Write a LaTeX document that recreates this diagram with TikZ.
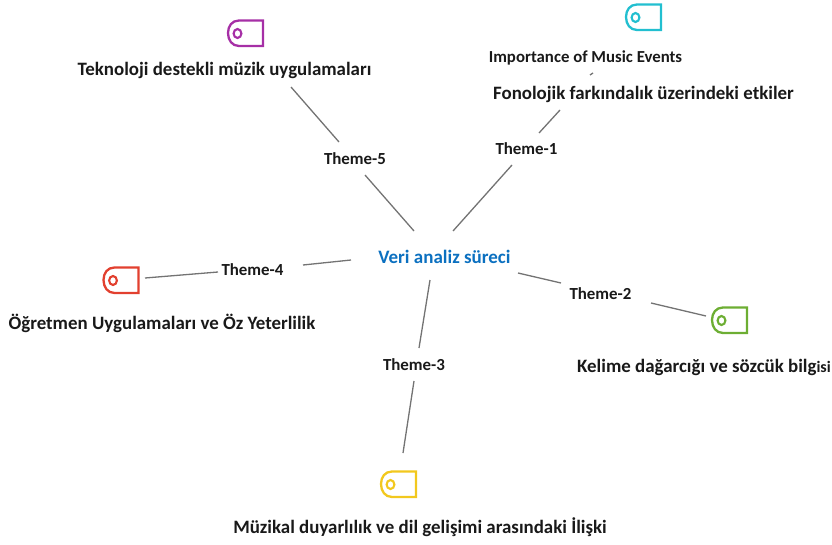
\documentclass[tikz,border=0pt]{standalone}
\usepackage{fontspec}
\setmainfont{Carlito}
\tikzset{
  lbl/.style={font=\bfseries\fontsize{18.9}{22}\selectfont, text=black!90, inner sep=0pt, anchor=center},
  thm/.style={font=\bfseries\fontsize{16.9}{20}\selectfont, text=black!90, inner sep=0pt, anchor=center},
  conn/.style={draw=black!55, line width=1.3pt},
  pics/tagicon/.style={code={
    \draw[line width=2.3pt, draw=#1, line join=miter] (18,-12.5) -- (18,13) -- (-6,13) .. controls (-13,13) and (-17,7) .. (-17,0) .. controls (-17,-7) and (-13,-12.5) .. (-6,-12.5) -- cycle;
    \draw[line width=2.1pt, draw=#1] (-7.5,0.5) ellipse (3.9 and 4.5);
  }}
}
\definecolor{cyanT}{HTML}{22BFD0}
\definecolor{purpleT}{HTML}{A62FA6}
\definecolor{greenT}{HTML}{6DAE33}
\definecolor{yellowT}{HTML}{F2C81E}
\definecolor{redT}{HTML}{E2402F}
\definecolor{blueT}{HTML}{0B70C0}
\begin{document}
\begin{tikzpicture}[x=1pt,y=-1pt]
\useasboundingbox (0,0) rectangle (832,544);
\node[lbl, text=blueT, font=\bfseries\fontsize{19}{22}\selectfont] (center) at (444.5,256.5) {Veri analiz süreci};
\node[thm] (t1) at (526.5,149) {Theme-1};
\node[thm] (t2) at (600.5,294) {Theme-2};
\node[thm] (t3) at (414,365) {Theme-3};
\node[thm] (t4) at (252.5,269.5) {Theme-4};
\node[thm] (t5) at (355,159) {Theme-5};
\node[lbl] (l1) at (643.5,94.5) {Fonolojik farkındalık üzerindeki etkiler};
\node[lbl, font=\bfseries\fontsize{16.8}{20}\selectfont] (l1b) at (585.5,57.5) {Importance of Music Events};
\node[lbl] (l2) at (704,367.5) {Kelime dağarcığı ve sözcük bilg{\fontsize{16}{18}\selectfont isi}};
\node[lbl] (l3) at (420,527.5) {Müzikal duyarlılık ve dil gelişimi arasındaki İlişki};
\node[lbl] (l4) at (162,323.5) {Öğretmen Uygulamaları ve Öz Yeterlilik};
\node[lbl] (l5) at (224.5,70) {Teknoloji destekli müzik uygulamaları};
\pic at (643,17) {tagicon=cyanT};
\pic at (245,33) {tagicon=purpleT};
\pic at (729,320) {tagicon=greenT};
\pic at (398,484) {tagicon=yellowT};
\pic at (120.5,280) {tagicon=redT};
\coordinate (a1) at (453,231); \coordinate (b1) at (512,165);
\coordinate (c1) at (539,133); \coordinate (d1) at (560,110);
\coordinate (e1) at (590,75);  \coordinate (f1) at (593,73);
\coordinate (a5) at (414,231); \coordinate (b5) at (365,175);
\coordinate (c5) at (339,142); \coordinate (d5) at (291,87);
\coordinate (a4) at (351,260); \coordinate (b4) at (303,265);
\coordinate (c4) at (218,272); \coordinate (d4) at (145,278);
\coordinate (a2) at (518,273); \coordinate (b2) at (561,283);
\coordinate (c2) at (651,303); \coordinate (d2) at (706,316);
\coordinate (a3) at (430,280); \coordinate (b3) at (419,348);
\coordinate (c3) at (414,381); \coordinate (d3) at (403,453);
\draw[conn] (a1) -- (b1);
\draw[conn] (c1) -- (d1);
\draw[conn] (e1) -- (f1);
\draw[conn] (a5) -- (b5);
\draw[conn] (c5) -- (d5);
\draw[conn] (a4) -- (b4);
\draw[conn] (c4) -- (d4);
\draw[conn] (a2) -- (b2);
\draw[conn] (c2) -- (d2);
\draw[conn] (a3) -- (b3);
\draw[conn] (c3) -- (d3);
\end{tikzpicture}
\end{document}
